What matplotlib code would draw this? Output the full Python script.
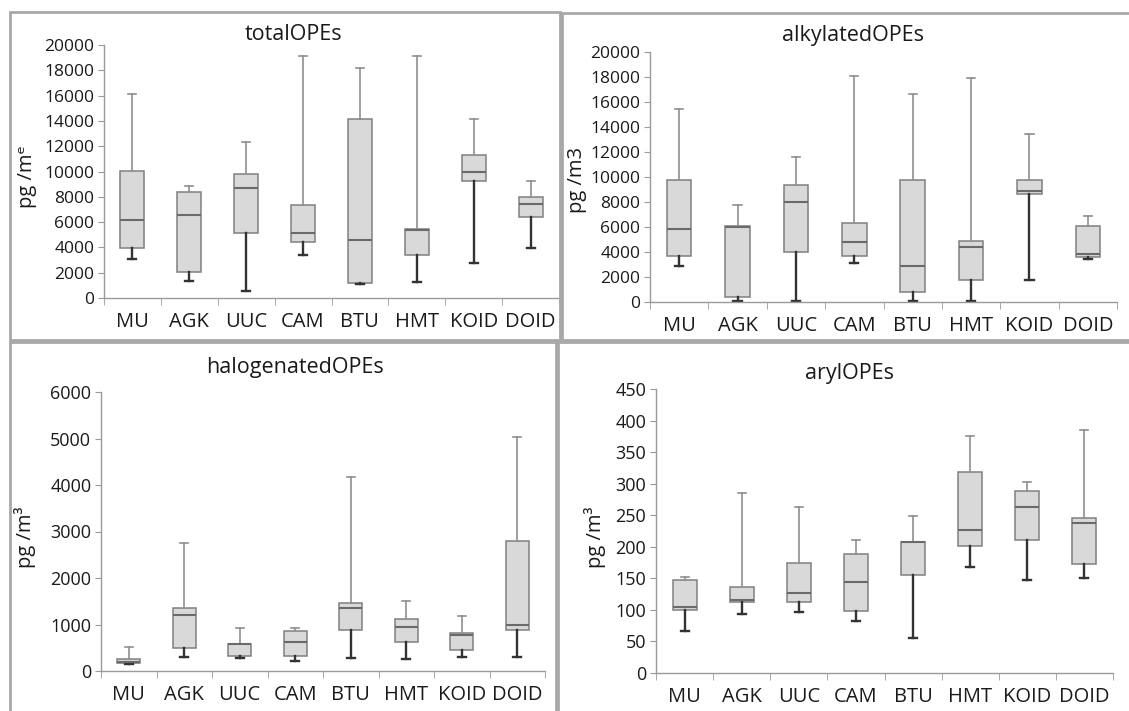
import matplotlib.pyplot as plt
from matplotlib.patches import Rectangle

plt.rcParams['font.family'] = ['Open Sans', 'DejaVu Sans']

sites = ['MU', 'AGK', 'UUC', 'CAM', 'BTU', 'HMT', 'KOID', 'DOID']

# totalOPEs (pg/m3)
total_min = [3070, 1370, 580, 3390, 1100, 1290, 2760, 3990]
total_q1 = [3990, 2020, 5170, 4440, 1180, 3390, 9240, 6400]
total_med = [6140, 6540, 8720, 5170, 4570, 5380, 9950, 7400]
total_q3 = [10030, 8400, 9770, 7350, 14170, 5490, 11310, 7980]
total_max = [16120, 8850, 12360, 19160, 18220, 19160, 14170, 9240]

# alkylatedOPEs
alkyl_min = [2850, 50, 50, 3120, 50, 50, 1790, 3440]
alkyl_q1 = [3710, 400, 4000, 3710, 800, 1790, 8670, 3600]
alkyl_med = [5840, 6030, 8000, 4770, 2850, 4400, 8850, 3870]
alkyl_q3 = [9790, 6110, 9390, 6320, 9790, 4850, 9790, 6110]
alkyl_max = [15440, 7790, 11600, 18050, 16670, 17920, 13470, 6850]

# halogenatedOPEs
halo_min = [160, 293, 272, 215, 272, 250, 308, 293]
halo_q1 = [170, 487, 322, 322, 880, 630, 451, 880]
halo_med = [200, 1203, 570, 616, 1360, 938, 773, 988]
halo_q3 = [250, 1346, 580, 859, 1453, 1110, 823, 2799]
halo_max = [523, 2742, 916, 916, 4173, 1510, 1188, 5032]

# arylOPEs
aryl_min = [67, 94, 96, 82, 55, 168, 148, 150]
aryl_q1 = [100, 112, 112, 98, 156, 202, 210, 173]
aryl_med = [104, 115, 126, 144, 207, 227, 263, 238]
aryl_q3 = [147, 136, 174, 188, 208, 318, 288, 246]
aryl_max = [152, 285, 263, 211, 248, 375, 303, 385]

W, H = 1129, 711
fig = plt.figure(figsize=(W / 100, H / 100), dpi=100)
fig.patch.set_facecolor('white')

box_face = '#d9d9d9'
box_edge = '#808080'
axis_col = '#9a9a9a'
text_col = '#1a1a1a'


def px_axes(x0, y0, x1, y1):
    return fig.add_axes([x0 / W, 1 - y1 / H, (x1 - x0) / W, (y1 - y0) / H])


def draw_panel(ax, mins, q1s, meds, q3s, maxs, ymax, ystep, ytick_fs, xtick_fs):
    stats = []
    for lo, a, m, b, hi in zip(mins, q1s, meds, q3s, maxs):
        stats.append(dict(whislo=lo, q1=a, med=m, q3=b, whishi=hi, fliers=[]))
    parts = ax.bxp(stats, positions=range(len(stats)), widths=0.42, capwidths=0.14,
                   patch_artist=True, showfliers=False,
                   boxprops=dict(facecolor=box_face, edgecolor=box_edge, linewidth=1.1),
                   medianprops=dict(color='#6a6a6a', linewidth=1.5))
    # Excel style: lower whisker dark and thick, upper whisker light and thin
    for i, (wh, cp) in enumerate(zip(parts['whiskers'], parts['caps'])):
        if i % 2 == 0:
            wh.set(color='#333333', linewidth=1.7)
            cp.set(color='#333333', linewidth=1.7)
        else:
            wh.set(color='#8f8f8f', linewidth=1.2)
            cp.set(color='#8f8f8f', linewidth=1.2)

    ax.set_xlim(-0.5, len(sites) - 0.5)
    ax.set_ylim(0, ymax)
    ax.set_yticks(range(0, ymax + 1, ystep))
    ax.set_xticks(range(len(sites)))
    ax.set_xticklabels(sites)
    ax.set_xticks([i - 0.5 for i in range(len(sites) + 1)], minor=True)
    ax.tick_params(axis='x', which='major', length=0, pad=10, labelsize=xtick_fs, colors=text_col)
    ax.tick_params(axis='x', which='minor', length=5, direction='out', color=axis_col)
    ax.tick_params(axis='y', length=4, direction='out', labelsize=ytick_fs,
                   labelcolor=text_col, color=axis_col, pad=3)
    for side in ['top', 'right']:
        ax.spines[side].set_visible(False)
    for side in ['left', 'bottom']:
        ax.spines[side].set_color(axis_col)
        ax.spines[side].set_linewidth(1.0)
    ax.patch.set_alpha(0)


# panel frames
for (x0, y0, x1, y1) in [(10, 12, 560, 340), (562, 13, 1140, 340),
                         (10, 342, 556, 720), (558, 342, 1140, 720)]:
    fig.patches.append(Rectangle((x0 / W, 1 - y1 / H), (x1 - x0) / W, (y1 - y0) / H,
                                 transform=fig.transFigure, fill=False,
                                 edgecolor='#a8a8a8', linewidth=2))

ax1 = px_axes(104, 45, 559, 298)
draw_panel(ax1, total_min, total_q1, total_med, total_q3, total_max, 20000, 2000, 12.5, 14.5)
ax2 = px_axes(650, 52, 1117, 302)
draw_panel(ax2, alkyl_min, alkyl_q1, alkyl_med, alkyl_q3, alkyl_max, 20000, 2000, 12.5, 14.5)
ax3 = px_axes(101, 392, 545, 671)
draw_panel(ax3, halo_min, halo_q1, halo_med, halo_q3, halo_max, 6000, 1000, 13, 14.5)
ax4 = px_axes(656, 389, 1113, 673)
draw_panel(ax4, aryl_min, aryl_q1, aryl_med, aryl_q3, aryl_max, 450, 50, 13, 14.5)

# titles
for x, y, s in [(293, 34, 'totalOPEs'), (853, 35, 'alkylatedOPEs'),
                (295, 367, 'halogenatedOPEs'), (849, 373, 'arylOPEs')]:
    fig.text(x / W, 1 - y / H, s, ha='center', va='center', fontsize=15.5, color=text_col)

# y-axis labels
for x, y, s in [(27, 177, 'pg /m\u1d49'), (577, 180, 'pg /m3'),
                (25, 537, 'pg /m\u00b3'), (595, 537, 'pg /m\u00b3')]:
    fig.text(x / W, 1 - y / H, s, ha='center', va='center', rotation=90,
             fontsize=14.5, color=text_col)

fig.savefig('out.png', dpi=100)
